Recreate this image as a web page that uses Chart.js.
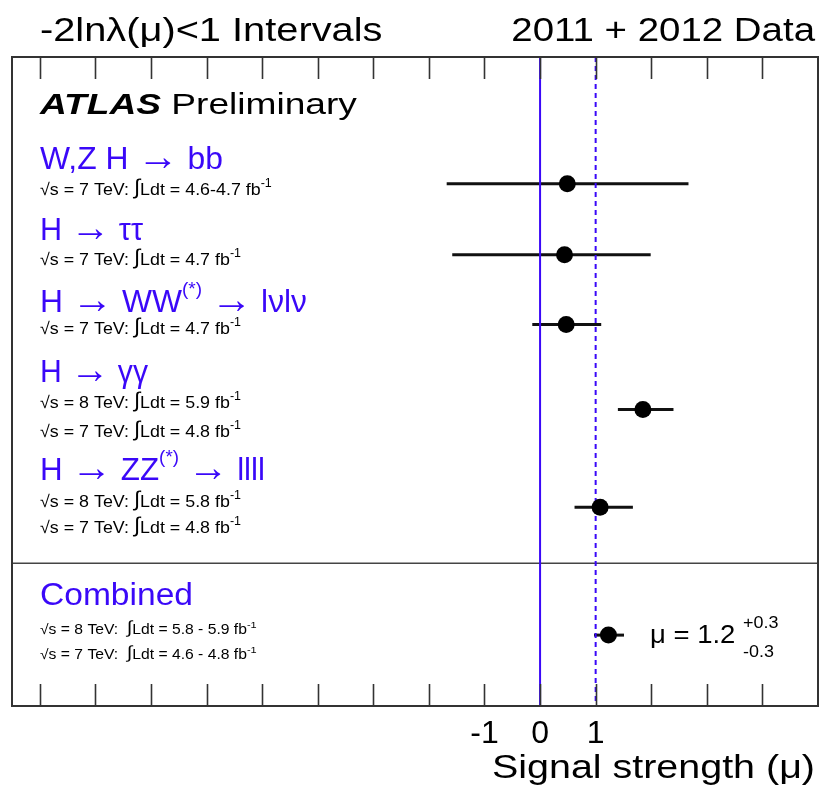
<!DOCTYPE html>
<html>
<head>
<meta charset="utf-8">
<script src="https://cdn.jsdelivr.net/npm/chart.js@4.4.1/dist/chart.umd.min.js"></script>
<style>
  html, body { margin: 0; padding: 0; background: #fff; }
  #wrap { width: 822px; height: 809px; }
</style>
</head>
<body>
<div id="wrap"><canvas id="muChart" width="822" height="809"></canvas></div>
<script>
// channels, top to bottom
const channels = ['W,Z H → bb', 'H → ττ', 'H → WW(*) → lνlν', 'H → γγ', 'H → ZZ(*) → llll', 'Combined'];
// best-fit signal strength and the -2lnλ<1 interval
const muValues = [0.49, 0.44, 0.47, 1.85, 1.08, 1.23];
const muLow = [-1.68, -1.58, -0.14, 1.40, 0.62, 0.97];
const muHigh = [2.67, 1.99, 1.10, 2.40, 1.67, 1.51];
// row position of each channel (axis units, top = 0)
const rowPos = [2.54, 3.96, 5.36, 7.06, 9.02, 11.58];
const separatorPos = 10.14;
// reference lines: background only (mu = 0) and SM (mu = 1)
const refLines = [0, 1];
// tick labels shown under the axis
const tickLabels = [-1, 0, 1];

const BLUE = '#3a08f8';
const FONT = "'Liberation Sans', Arial, Helvetica, sans-serif";

// text drawn as pieces [text, sizeFactor, raise, style], stretched sideways by sx
function richText(ctx, x, y, size, sx, parts, color) {
    ctx.save();
    ctx.translate(x, y);
    ctx.scale(sx, 1);
    ctx.fillStyle = color;
    ctx.textBaseline = 'alphabetic';
    ctx.textAlign = 'left';
    let cx = 0;
    parts.forEach(p => {
        const s = size * (p[1] || 1);
        ctx.font = (p[3] || '') + ' ' + s + 'px ' + FONT;
        ctx.fillText(p[0], cx, -(p[2] || 0));
        cx += ctx.measureText(p[0]).width;
    });
    ctx.restore();
    return x + cx * sx;
}

// natural width of a piece list
function partsWidth(ctx, size, parts) {
    let w = 0;
    parts.forEach(p => {
        ctx.font = (p[3] || '') + ' ' + size * (p[1] || 1) + 'px ' + FONT;
        w += ctx.measureText(p[0]).width;
    });
    return w;
}

function lumiLine(ctx, x, y, sqrts, lumi, small) {
    const size = small ? 14 : 17;
    richText(ctx, x, y, size, small ? 1.12 : 1.05, [
        ['√s = ' + sqrts + ' TeV: ' + (small ? ' ' : '')],
        ['∫', 1.25, 1],
        ['Ldt = ' + lumi + ' fb'],
        ['-1', 0.7, size * 0.45]
    ], '#000');
}

// channel name, split at the arrows so these can be drawn larger
function header(ctx, y, name, endX) {
    const parts = [];
    name.split(/(→|\(\*\))/).forEach(s => {
        if (s === '→') parts.push([s, 1.3, -1]);
        else if (s === '(*)') parts.push([s, 0.6, 17]);
        else if (s) parts.push([s]);
    });
    const sx = (endX - 40) / partsWidth(ctx, 31, parts);
    richText(ctx, 40, y, 31, sx, parts, BLUE);
}

const decorPlugin = {
    id: 'decor',
    beforeDatasetsDraw(chart) {
        const { ctx, chartArea: a, scales: { x, y } } = chart;
        ctx.save();
        // separator between channels and combination
        ctx.strokeStyle = '#444';
        ctx.lineWidth = 1.5;
        ctx.beginPath();
        ctx.moveTo(a.left, y.getPixelForValue(separatorPos));
        ctx.lineTo(a.right, y.getPixelForValue(separatorPos));
        ctx.stroke();
        // interval bars
        ctx.strokeStyle = '#111';
        ctx.lineWidth = 3;
        muValues.forEach((m, i) => {
            const py = y.getPixelForValue(rowPos[i]);
            ctx.beginPath();
            ctx.moveTo(x.getPixelForValue(muLow[i]), py);
            ctx.lineTo(x.getPixelForValue(muHigh[i]), py);
            ctx.stroke();
        });
        ctx.restore();
    },
    afterDraw(chart) {
        const { ctx, chartArea: a, scales: { x } } = chart;
        ctx.save();
        // frame
        ctx.strokeStyle = '#333';
        ctx.lineWidth = 2;
        ctx.strokeRect(a.left, a.top, a.right - a.left, a.bottom - a.top);
        // inward ticks top and bottom
        ctx.lineWidth = 1.6;
        for (let v = Math.ceil(x.min); v < x.max; v++) {
            if (v <= x.min) continue;
            const px = Math.round(x.getPixelForValue(v)) + 0.5;
            ctx.beginPath();
            ctx.moveTo(px, a.top); ctx.lineTo(px, a.top + 22);
            ctx.moveTo(px, a.bottom); ctx.lineTo(px, a.bottom - 22);
            ctx.stroke();
        }

        // titles above the frame
        richText(ctx, 40, 41, 34, 1.17, [['-2lnλ(μ)<1 Intervals']], '#000');
        ctx.font = '34px ' + FONT;
        const tw = ctx.measureText('2011 + 2012 Data').width * 1.13;
        richText(ctx, 815 - tw, 41, 34, 1.13, [['2011 + 2012 Data']], '#000');

        // axis title
        ctx.font = '34px ' + FONT;
        const aw = ctx.measureText('Signal strength (μ)').width * 1.16;
        richText(ctx, 815 - aw, 778, 34, 1.16, [['Signal strength (μ)']], '#000');

        richText(ctx, 40, 114, 29, 1.28, [['ATLAS ', 1, 0, 'italic bold'], ['Preliminary']], '#000');

        // channel labels
        header(ctx, 169, channels[0], 223);
        lumiLine(ctx, 40, 195, '7', '4.6-4.7');
        header(ctx, 240, channels[1], 143);
        lumiLine(ctx, 40, 265, '7', '4.7');
        header(ctx, 312, channels[2], 307);
        lumiLine(ctx, 40, 334, '7', '4.7');
        header(ctx, 382, channels[3], 148);
        lumiLine(ctx, 40, 408, '8', '5.9');
        lumiLine(ctx, 40, 437, '7', '4.8');
        header(ctx, 480, channels[4], 265);
        lumiLine(ctx, 40, 507, '8', '5.8');
        lumiLine(ctx, 40, 533, '7', '4.8');
        header(ctx, 605, channels[5], 193);
        lumiLine(ctx, 40, 634, '8', '5.8 - 5.9', true);
        lumiLine(ctx, 40, 659, '7', '4.6 - 4.8', true);

        // combined result
        const last = muValues.length - 1;
        richText(ctx, 650, 643, 25, 1.1, [['μ = ' + muValues[last].toFixed(1)]], '#000');
        richText(ctx, 743, 628, 16, 1.12, [['+' + (muHigh[last] - muValues[last]).toFixed(1)]], '#000');
        richText(ctx, 743, 657, 16, 1.12, [['-' + (muValues[last] - muLow[last]).toFixed(1)]], '#000');
        ctx.restore();
    }
};

const ctxEl = document.getElementById('muChart');
new Chart(ctxEl, {
    type: 'scatter',
    data: {
        datasets: [
            {
                label: 'mu',
                data: muValues.map((m, i) => ({ x: m, y: rowPos[i] })),
                pointRadius: 8.5,
                pointBackgroundColor: '#000',
                pointBorderColor: '#000',
                pointBorderWidth: 0,
                order: 0
            },
            {
                type: 'line',
                label: 'mu = 0',
                data: [{ x: refLines[0], y: 0 }, { x: refLines[0], y: 13 }],
                borderColor: BLUE,
                borderWidth: 2,
                pointRadius: 0,
                order: 2
            },
            {
                type: 'line',
                label: 'mu = 1',
                data: [{ x: refLines[1], y: 0 }, { x: refLines[1], y: 13 }],
                borderColor: BLUE,
                borderWidth: 2,
                borderDash: [5, 4],
                pointRadius: 0,
                order: 2
            }
        ]
    },
    options: {
        responsive: false,
        animation: false,
        events: [],
        layout: { autoPadding: false, padding: { left: 12, top: 57, right: 4, bottom: 0 } },
        plugins: { legend: { display: false }, tooltip: { enabled: false } },
        scales: {
            x: {
                type: 'linear',
                min: -9.5,
                max: 5,
                afterFit(scale) {
                    scale.height = 103;
                    scale.paddingLeft = 0;
                    scale.paddingRight = 0;
                },
                grid: { drawOnChartArea: false, drawTicks: false },
                border: { display: false },
                ticks: {
                    stepSize: 1,
                    padding: 9,
                    autoSkip: false,
                    maxRotation: 0,
                    color: '#000',
                    font: { family: FONT, size: 32 },
                    callback: v => tickLabels.includes(v) ? String(v) : ''
                }
            },
            y: {
                type: 'linear',
                display: false,
                reverse: true,
                min: 0,
                max: 13
            }
        }
    },
    plugins: [decorPlugin]
});
</script>
</body>
</html>
